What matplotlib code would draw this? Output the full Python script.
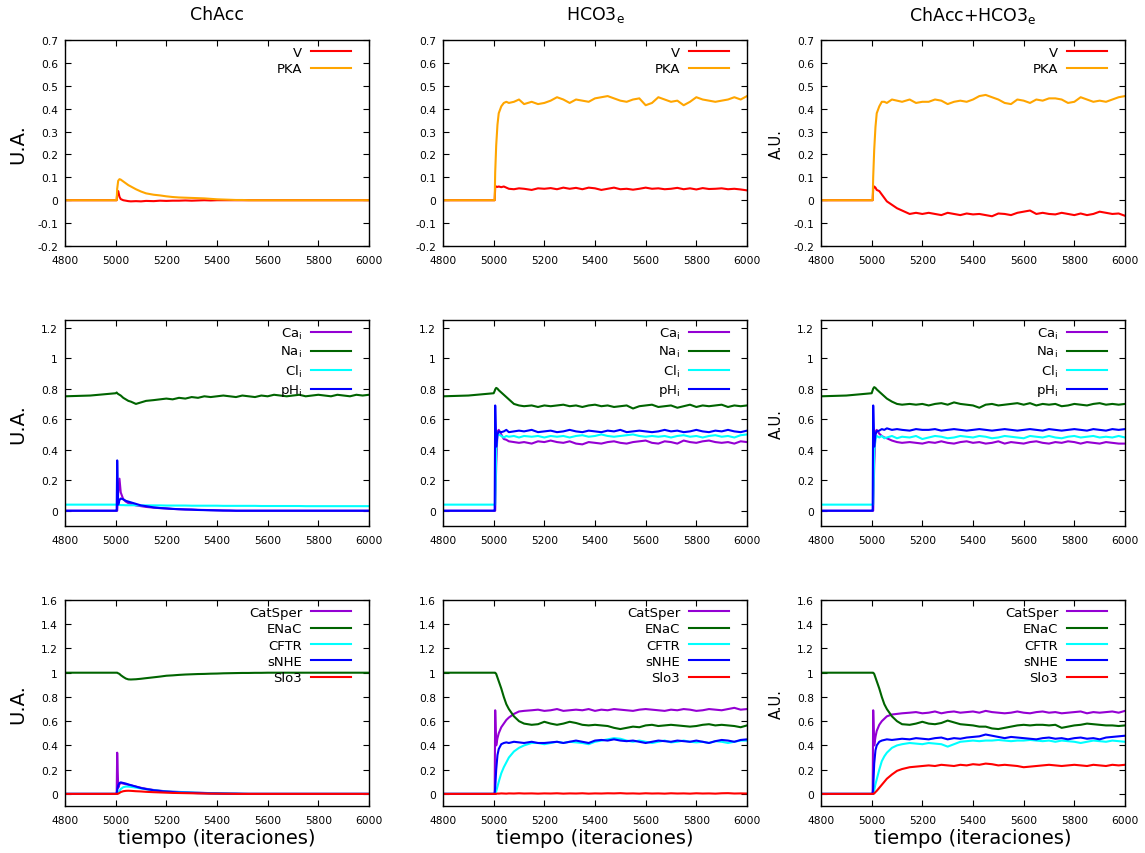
import matplotlib
matplotlib.use('Agg')
import matplotlib.pyplot as plt
from matplotlib.ticker import FuncFormatter

t = [4800, 4900, 5000, 5004, 5006, 5010, 5015, 5020, 5030, 5040,
     5050, 5060, 5080, 5100, 5120, 5150, 5175, 5200,
     5225, 5250, 5275, 5300, 5325, 5350, 5375, 5400, 5425, 5450, 5475, 5500, 5525, 5550, 5575, 5600,
     5625, 5650, 5675, 5700, 5725, 5750, 5775, 5800, 5825, 5850, 5875, 5900, 5925, 5950, 5975, 6000]

col_titles = ['ChAcc', r'HCO3$_{\rm e}$', r'ChAcc+HCO3$_{\rm e}$']

# ---- row 1: V, PKA
v_chacc = [0, 0, 0, 0, 0.03, 0.04, 0.015, 0.005, 0.0, -0.002, -0.004, -0.005, -0.004, -0.005, -0.003, -0.004, -0.002, -0.003,
           -0.002, -0.002, -0.001, -0.002, -0.001, 0, -0.001, 0, 0, 0, 0, 0, 0, 0, 0, 0,
           0, 0, 0, 0, 0, 0, 0, 0, 0, 0, 0, 0, 0, 0, 0, 0]
pka_chacc = [0, 0, 0, 0, 0.05, 0.085, 0.092, 0.09, 0.082, 0.074, 0.066, 0.06, 0.048, 0.038, 0.03, 0.024, 0.021, 0.017,
             0.014, 0.012, 0.011, 0.010, 0.009, 0.008, 0.006, 0.004, 0.003, 0.002, 0.001, 0.001, 0, 0, 0, 0,
             0, 0, 0, 0, 0, 0, 0, 0, 0, 0, 0, 0, 0, 0, 0, 0]
v_hco3 = [0, 0, 0, 0, 0.055, 0.06, 0.058, 0.06, 0.057, 0.06, 0.055, 0.05, 0.048, 0.052, 0.05, 0.045, 0.052, 0.05,
          0.053, 0.048, 0.055, 0.05, 0.054, 0.048, 0.055, 0.052, 0.045, 0.05, 0.055, 0.048, 0.05, 0.046, 0.05, 0.055,
          0.05, 0.052, 0.048, 0.05, 0.054, 0.048, 0.052, 0.047, 0.053, 0.049, 0.05, 0.052, 0.048, 0.05, 0.047, 0.043]
pka_hco3 = [0, 0, 0, 0, 0.12, 0.24, 0.33, 0.38, 0.41, 0.425, 0.43, 0.425, 0.43, 0.44, 0.42, 0.43, 0.42, 0.425,
            0.435, 0.45, 0.44, 0.425, 0.44, 0.435, 0.43, 0.445, 0.45, 0.455, 0.445, 0.435, 0.43, 0.44, 0.445, 0.415,
            0.425, 0.45, 0.44, 0.43, 0.435, 0.415, 0.43, 0.45, 0.44, 0.435, 0.43, 0.435, 0.44, 0.45, 0.44, 0.455]
v_both = [0, 0, 0, 0, 0.05, 0.06, 0.055, 0.045, 0.04, 0.025, 0.01, -0.005, -0.02, -0.035, -0.045, -0.06, -0.055, -0.06,
          -0.055, -0.06, -0.065, -0.055, -0.06, -0.065, -0.058, -0.062, -0.06, -0.065, -0.07, -0.058, -0.06, -0.065, -0.055, -0.05,
          -0.045, -0.06, -0.055, -0.06, -0.062, -0.055, -0.06, -0.065, -0.058, -0.065, -0.06, -0.05, -0.055, -0.06, -0.058, -0.068]
pka_both = [0, 0, 0, 0, 0.1, 0.22, 0.32, 0.38, 0.41, 0.43, 0.43, 0.425, 0.44, 0.435, 0.43, 0.44, 0.425, 0.43,
            0.43, 0.44, 0.435, 0.42, 0.43, 0.435, 0.43, 0.44, 0.455, 0.46, 0.45, 0.44, 0.425, 0.42, 0.44, 0.435,
            0.425, 0.44, 0.435, 0.445, 0.445, 0.44, 0.425, 0.43, 0.45, 0.44, 0.43, 0.435, 0.43, 0.44, 0.45, 0.455]

# ---- row 2: Ca_i, Na_i, Cl_i, pH_i
ca_chacc = [0, 0, 0, 0, 0, 0.12, 0.21, 0.12, 0.075, 0.06, 0.05, 0.045, 0.035, 0.03, 0.025, 0.02, 0.017, 0.015,
            0.012, 0.01, 0.009, 0.008, 0.006, 0.005, 0.004, 0.003, 0.002, 0.001, 0, 0, 0, 0, 0, 0,
            0, 0, 0, 0, 0, 0, 0, 0, 0, 0, 0, 0, 0, 0, 0, 0]
na_chacc = [0.75, 0.755, 0.77, 0.775, 0.77, 0.765, 0.76, 0.755, 0.74, 0.73, 0.72, 0.715, 0.70, 0.71, 0.72, 0.725, 0.73, 0.735,
            0.73, 0.74, 0.735, 0.745, 0.74, 0.75, 0.745, 0.75, 0.755, 0.75, 0.745, 0.755, 0.75, 0.745, 0.755, 0.75,
            0.76, 0.755, 0.75, 0.755, 0.76, 0.75, 0.755, 0.76, 0.755, 0.75, 0.76, 0.755, 0.75, 0.76, 0.755, 0.76]
cl_chacc = [0.04, 0.04, 0.04, 0.04, 0.04, 0.038, 0.038, 0.037, 0.037, 0.036, 0.036, 0.036, 0.036, 0.035, 0.035, 0.035, 0.035, 0.034,
            0.034, 0.034, 0.034, 0.033, 0.033, 0.033, 0.033, 0.033, 0.032, 0.032, 0.032, 0.032, 0.032, 0.032, 0.031, 0.031,
            0.031, 0.031, 0.031, 0.031, 0.031, 0.03, 0.03, 0.03, 0.03, 0.03, 0.03, 0.03, 0.03, 0.03, 0.03, 0.03]
ph_chacc = [0, 0, 0, 0, 0.33, 0.04, 0.07, 0.08, 0.075, 0.065, 0.06, 0.055, 0.045, 0.035, 0.03, 0.022, 0.018, 0.015,
            0.012, 0.01, 0.008, 0.007, 0.005, 0.004, 0.003, 0.002, 0.001, 0.001, 0, 0, 0, 0, 0, 0,
            0, 0, 0, 0, 0, 0, 0, 0, 0, 0, 0, 0, 0, 0, 0, 0]
ca_hco3 = [0, 0, 0, 0, 0, 0.3, 0.52, 0.53, 0.5, 0.47, 0.465, 0.455, 0.45, 0.445, 0.45, 0.44, 0.455, 0.45,
           0.46, 0.45, 0.445, 0.455, 0.44, 0.435, 0.45, 0.445, 0.44, 0.45, 0.455, 0.445, 0.44, 0.45, 0.455, 0.46,
           0.445, 0.44, 0.455, 0.45, 0.44, 0.46, 0.45, 0.445, 0.455, 0.46, 0.45, 0.445, 0.45, 0.44, 0.455, 0.45]
na_hco3 = [0.75, 0.755, 0.77, 0.785, 0.795, 0.805, 0.80, 0.79, 0.775, 0.76, 0.745, 0.73, 0.70, 0.69, 0.685, 0.69, 0.68, 0.69,
           0.685, 0.69, 0.695, 0.685, 0.69, 0.68, 0.69, 0.695, 0.685, 0.69, 0.68, 0.685, 0.69, 0.67, 0.685, 0.69,
           0.695, 0.68, 0.685, 0.69, 0.675, 0.685, 0.695, 0.68, 0.69, 0.685, 0.69, 0.695, 0.68, 0.69, 0.685, 0.69]
cl_hco3 = [0.04, 0.04, 0.04, 0.04, 0.04, 0.40, 0.50, 0.50, 0.49, 0.48, 0.49, 0.485, 0.49, 0.48, 0.49, 0.485, 0.49, 0.48,
           0.49, 0.485, 0.49, 0.48, 0.49, 0.495, 0.485, 0.49, 0.5, 0.49, 0.485, 0.49, 0.495, 0.5, 0.49, 0.485,
           0.49, 0.485, 0.49, 0.48, 0.49, 0.495, 0.485, 0.49, 0.48, 0.49, 0.495, 0.485, 0.49, 0.48, 0.495, 0.5]
ph_hco3 = [0, 0, 0, 0, 0.69, 0.42, 0.5, 0.52, 0.515, 0.52, 0.53, 0.515, 0.52, 0.525, 0.52, 0.53, 0.515, 0.52,
           0.525, 0.515, 0.52, 0.53, 0.52, 0.515, 0.525, 0.52, 0.515, 0.525, 0.52, 0.53, 0.515, 0.52, 0.525, 0.52,
           0.515, 0.52, 0.53, 0.52, 0.525, 0.515, 0.52, 0.53, 0.52, 0.515, 0.525, 0.52, 0.53, 0.52, 0.515, 0.525]
ca_both = [0, 0, 0, 0, 0, 0.3, 0.52, 0.53, 0.505, 0.49, 0.48, 0.475, 0.46, 0.45, 0.445, 0.45, 0.445, 0.44,
           0.45, 0.445, 0.455, 0.445, 0.44, 0.45, 0.455, 0.445, 0.45, 0.44, 0.445, 0.455, 0.44, 0.45, 0.445, 0.44,
           0.45, 0.455, 0.445, 0.44, 0.45, 0.445, 0.455, 0.45, 0.44, 0.45, 0.445, 0.44, 0.45, 0.445, 0.44, 0.44]
na_both = [0.75, 0.755, 0.77, 0.79, 0.80, 0.81, 0.805, 0.795, 0.78, 0.765, 0.75, 0.735, 0.715, 0.70, 0.695, 0.70, 0.695, 0.70,
           0.69, 0.70, 0.705, 0.695, 0.71, 0.70, 0.695, 0.69, 0.675, 0.695, 0.70, 0.69, 0.695, 0.70, 0.705, 0.695,
           0.705, 0.69, 0.70, 0.695, 0.70, 0.685, 0.69, 0.70, 0.695, 0.69, 0.70, 0.705, 0.695, 0.70, 0.695, 0.70]
cl_both = [0.04, 0.04, 0.04, 0.04, 0.04, 0.39, 0.47, 0.49, 0.48, 0.49, 0.475, 0.48, 0.49, 0.475, 0.485, 0.48, 0.49, 0.47,
           0.48, 0.49, 0.485, 0.475, 0.48, 0.49, 0.485, 0.48, 0.49, 0.485, 0.475, 0.48, 0.49, 0.485, 0.48, 0.475,
           0.49, 0.485, 0.48, 0.49, 0.48, 0.475, 0.485, 0.49, 0.48, 0.485, 0.49, 0.48, 0.485, 0.48, 0.49, 0.48]
ph_both = [0, 0, 0, 0, 0.69, 0.42, 0.5, 0.52, 0.525, 0.535, 0.53, 0.54, 0.53, 0.535, 0.53, 0.525, 0.535, 0.53,
           0.53, 0.535, 0.525, 0.53, 0.535, 0.53, 0.525, 0.53, 0.535, 0.53, 0.525, 0.53, 0.535, 0.53, 0.525, 0.53,
           0.535, 0.53, 0.525, 0.535, 0.53, 0.525, 0.53, 0.535, 0.53, 0.525, 0.535, 0.53, 0.525, 0.535, 0.53, 0.535]

# ---- row 3: CatSper, ENaC, CFTR, sNHE, Slo3
catsper_chacc = [0, 0, 0, 0, 0.34, 0.05, 0.08, 0.09, 0.085, 0.08, 0.075, 0.07, 0.06, 0.05, 0.042, 0.032, 0.026, 0.021,
                 0.018, 0.016, 0.014, 0.012, 0.01, 0.008, 0.006, 0.005, 0.004, 0.003, 0.002, 0.001, 0, 0, 0, 0,
                 0, 0, 0, 0, 0, 0, 0, 0, 0, 0, 0, 0, 0, 0, 0, 0]
enac_chacc = [1, 1, 1, 1, 1, 0.995, 0.99, 0.98, 0.965, 0.952, 0.945, 0.944, 0.946, 0.95, 0.955, 0.962, 0.968, 0.975,
              0.978, 0.982, 0.985, 0.987, 0.989, 0.99, 0.992, 0.993, 0.995, 0.996, 0.997, 0.998, 0.998, 0.999, 0.999, 1,
              1, 1, 1, 1, 1, 1, 1, 1, 1, 1, 1, 1, 1, 1, 1, 1]
cftr_chacc = [0, 0, 0, 0, 0, 0.01, 0.025, 0.04, 0.055, 0.06, 0.06, 0.058, 0.052, 0.045, 0.038, 0.03, 0.025, 0.02,
              0.017, 0.015, 0.013, 0.011, 0.009, 0.007, 0.006, 0.005, 0.004, 0.003, 0.002, 0.001, 0, 0, 0, 0,
              0, 0, 0, 0, 0, 0, 0, 0, 0, 0, 0, 0, 0, 0, 0, 0]
snhe_chacc = [0, 0, 0, 0, 0.03, 0.07, 0.09, 0.095, 0.09, 0.085, 0.078, 0.072, 0.06, 0.048, 0.04, 0.03, 0.024, 0.019,
              0.015, 0.012, 0.01, 0.008, 0.006, 0.005, 0.004, 0.003, 0.002, 0.001, 0.001, 0, 0, 0, 0, 0,
              0, 0, 0, 0, 0, 0, 0, 0, 0, 0, 0, 0, 0, 0, 0, 0]
slo3_chacc = [0, 0, 0, 0, 0, 0.002, 0.008, 0.015, 0.022, 0.025, 0.026, 0.025, 0.022, 0.02, 0.017, 0.014, 0.012, 0.01,
              0.008, 0.007, 0.006, 0.005, 0.004, 0.003, 0.002, 0.002, 0.001, 0.001, 0, 0, 0, 0, 0, 0,
              0, 0, 0, 0, 0, 0, 0, 0, 0, 0, 0, 0, 0, 0, 0, 0]
catsper_hco3 = [0, 0, 0, 0, 0.69, 0.40, 0.46, 0.50, 0.55, 0.58, 0.61, 0.63, 0.66, 0.68, 0.685, 0.69, 0.695, 0.685,
                0.69, 0.70, 0.685, 0.69, 0.695, 0.69, 0.70, 0.685, 0.695, 0.69, 0.70, 0.695, 0.69, 0.685, 0.695, 0.70,
                0.695, 0.69, 0.685, 0.695, 0.69, 0.70, 0.695, 0.685, 0.69, 0.70, 0.695, 0.69, 0.70, 0.71, 0.695, 0.70]
enac_hco3 = [1, 1, 1, 1, 1, 0.99, 0.96, 0.93, 0.87, 0.80, 0.74, 0.70, 0.64, 0.60, 0.58, 0.57, 0.575, 0.595,
             0.58, 0.57, 0.58, 0.595, 0.585, 0.57, 0.565, 0.57, 0.565, 0.56, 0.545, 0.535, 0.545, 0.555, 0.55, 0.565,
             0.57, 0.56, 0.565, 0.57, 0.565, 0.56, 0.555, 0.56, 0.57, 0.575, 0.565, 0.57, 0.565, 0.56, 0.55, 0.565]
cftr_hco3 = [0, 0, 0, 0, 0, 0.02, 0.06, 0.10, 0.17, 0.22, 0.26, 0.30, 0.35, 0.38, 0.40, 0.42, 0.42, 0.41,
             0.42, 0.43, 0.42, 0.43, 0.425, 0.42, 0.41, 0.43, 0.44, 0.45, 0.46, 0.455, 0.44, 0.43, 0.44, 0.43,
             0.42, 0.43, 0.44, 0.425, 0.43, 0.44, 0.43, 0.425, 0.43, 0.42, 0.435, 0.43, 0.42, 0.43, 0.44, 0.44]
snhe_hco3 = [0, 0, 0, 0, 0.05, 0.20, 0.32, 0.37, 0.41, 0.42, 0.425, 0.42, 0.43, 0.425, 0.42, 0.43, 0.42, 0.42,
             0.425, 0.43, 0.42, 0.43, 0.44, 0.43, 0.42, 0.44, 0.445, 0.44, 0.45, 0.44, 0.435, 0.44, 0.43, 0.42,
             0.43, 0.44, 0.435, 0.43, 0.44, 0.435, 0.43, 0.44, 0.43, 0.42, 0.435, 0.445, 0.44, 0.43, 0.445, 0.45]
slo3_hco3 = [0, 0, 0, 0, 0, 0, 0.003, 0.002, 0.004, 0.003, 0.002, 0.004, 0.003, 0.005, 0.003, 0.004, 0.002, 0.004,
             0.003, 0.005, 0.002, 0.004, 0.003, 0.005, 0.002, 0.004, 0.003, 0.005, 0.004, 0.006, 0.003, 0.004, 0.002, 0.005,
             0.003, 0.004, 0.002, 0.005, 0.003, 0.004, 0.002, 0.005, 0.003, 0.004, 0.002, 0.005, 0.006, 0.003, 0.004, 0.003]
catsper_both = [0, 0, 0, 0, 0.69, 0.40, 0.47, 0.52, 0.57, 0.60, 0.62, 0.64, 0.655, 0.66, 0.665, 0.67, 0.675, 0.665,
                0.67, 0.68, 0.665, 0.675, 0.68, 0.67, 0.675, 0.68, 0.67, 0.685, 0.675, 0.67, 0.665, 0.67, 0.68, 0.67,
                0.665, 0.675, 0.68, 0.67, 0.675, 0.665, 0.67, 0.675, 0.68, 0.665, 0.675, 0.67, 0.675, 0.68, 0.67, 0.685]
enac_both = [1, 1, 1, 1, 1, 0.99, 0.96, 0.93, 0.87, 0.80, 0.74, 0.70, 0.64, 0.60, 0.575, 0.57, 0.58, 0.595,
             0.58, 0.575, 0.585, 0.605, 0.59, 0.575, 0.57, 0.565, 0.555, 0.555, 0.54, 0.535, 0.545, 0.555, 0.565, 0.57,
             0.565, 0.57, 0.57, 0.565, 0.57, 0.545, 0.555, 0.565, 0.57, 0.58, 0.575, 0.57, 0.565, 0.565, 0.56, 0.565]
cftr_both = [0, 0, 0, 0, 0, 0.03, 0.08, 0.12, 0.20, 0.27, 0.31, 0.34, 0.38, 0.40, 0.41, 0.42, 0.415, 0.41,
             0.42, 0.415, 0.41, 0.39, 0.41, 0.43, 0.435, 0.44, 0.435, 0.44, 0.44, 0.445, 0.44, 0.435, 0.44, 0.44,
             0.445, 0.44, 0.435, 0.44, 0.43, 0.44, 0.435, 0.43, 0.42, 0.43, 0.44, 0.435, 0.43, 0.44, 0.435, 0.43]
snhe_both = [0, 0, 0, 0, 0.05, 0.25, 0.36, 0.40, 0.43, 0.44, 0.445, 0.45, 0.445, 0.45, 0.455, 0.45, 0.46, 0.455,
             0.45, 0.46, 0.465, 0.45, 0.46, 0.455, 0.465, 0.47, 0.475, 0.49, 0.48, 0.47, 0.46, 0.47, 0.465, 0.46,
             0.455, 0.45, 0.46, 0.465, 0.455, 0.46, 0.45, 0.46, 0.465, 0.455, 0.46, 0.45, 0.465, 0.47, 0.475, 0.48]
slo3_both = [0, 0, 0, 0, 0, 0.003, 0.015, 0.025, 0.05, 0.075, 0.10, 0.125, 0.16, 0.19, 0.205, 0.22, 0.225, 0.23,
             0.235, 0.23, 0.24, 0.235, 0.23, 0.24, 0.235, 0.245, 0.24, 0.25, 0.245, 0.235, 0.24, 0.235, 0.23, 0.22,
             0.225, 0.23, 0.235, 0.24, 0.235, 0.23, 0.235, 0.24, 0.235, 0.23, 0.24, 0.235, 0.23, 0.24, 0.235, 0.24]

row_labels = [
    ['V', 'PKA'],
    [r'Ca$_{\rm i}$', r'Na$_{\rm i}$', r'Cl$_{\rm i}$', r'pH$_{\rm i}$'],
    ['CatSper', 'ENaC', 'CFTR', 'sNHE', 'Slo3'],
]
row_colors = [
    ['#ff0000', '#ffa500'],
    ['#9400d3', '#006400', '#00ffff', '#0000ff'],
    ['#9400d3', '#006400', '#00ffff', '#0000ff', '#ff0000'],
]
row_data = [
    [[v_chacc, pka_chacc], [v_hco3, pka_hco3], [v_both, pka_both]],
    [[ca_chacc, na_chacc, cl_chacc, ph_chacc], [ca_hco3, na_hco3, cl_hco3, ph_hco3],
     [ca_both, na_both, cl_both, ph_both]],
    [[catsper_chacc, enac_chacc, cftr_chacc, snhe_chacc, slo3_chacc],
     [catsper_hco3, enac_hco3, cftr_hco3, snhe_hco3, slo3_hco3],
     [catsper_both, enac_both, cftr_both, snhe_both, slo3_both]],
]
row_ylim = [(-0.2, 0.7), (-0.1, 1.25), (-0.1, 1.6)]
row_yticks = [[-0.2, -0.1, 0, 0.1, 0.2, 0.3, 0.4, 0.5, 0.6, 0.7],
              [0, 0.2, 0.4, 0.6, 0.8, 1, 1.2],
              [0, 0.2, 0.4, 0.6, 0.8, 1, 1.2, 1.4, 1.6]]
xticks = [4800, 5000, 5200, 5400, 5600, 5800, 6000]

W, H = 1145, 854
fig = plt.figure(figsize=(W / 100, H / 100), dpi=100)

col_left = [65, 443, 821]
col_w = 304
row_top = [41, 321, 601]
row_h = 206

fmt = FuncFormatter(lambda v, p: '%g' % round(v, 3))

for r in range(3):
    for c in range(3):
        ax = fig.add_axes([col_left[c] / W, 1 - (row_top[r] + row_h) / H, col_w / W, row_h / H])
        for vals, lab, colr in zip(row_data[r][c], row_labels[r], row_colors[r]):
            ax.plot(t, vals, color=colr, lw=1.5, label=lab)
        ax.set_xlim(4800, 6000)
        ax.set_ylim(*row_ylim[r])
        ax.set_xticks(xticks)
        ax.set_yticks(row_yticks[r])
        ax.yaxis.set_major_formatter(fmt)
        ax.tick_params(direction='in', top=True, right=True, length=4, width=0.8,
                       labelsize=7.7, pad=5)
        ax.tick_params(axis='x', pad=6.5)
        for sp in ax.spines.values():
            sp.set_linewidth(1.0)
        ax.legend(loc='upper right', bbox_to_anchor=(1 - 18 / col_w, 1 - 6 / row_h),
                  frameon=False, fontsize=9.5, handlelength=3.0, handletextpad=0.7,
                  labelspacing=0.25, borderpad=0, borderaxespad=0, markerfirst=False)
        if r == 0:
            ax.text(0.5, 1 + 26 / row_h, col_titles[c], transform=ax.transAxes,
                    ha='center', va='center', fontsize=12.5)
        if c == 0:
            ax.set_ylabel('U.A.', fontsize=14)
            ax.yaxis.set_label_coords(-38 / col_w, 0.5)
        elif c == 2:
            ax.set_ylabel('A.U.', fontsize=10.5)
            ax.yaxis.set_label_coords(-37 / col_w, 0.5)
        if r == 2:
            ax.set_xlabel('tiempo (iteraciones)', fontsize=14)
            ax.xaxis.set_label_coords(0.5, -22 / row_h)

fig.savefig('out.png', dpi=100)
